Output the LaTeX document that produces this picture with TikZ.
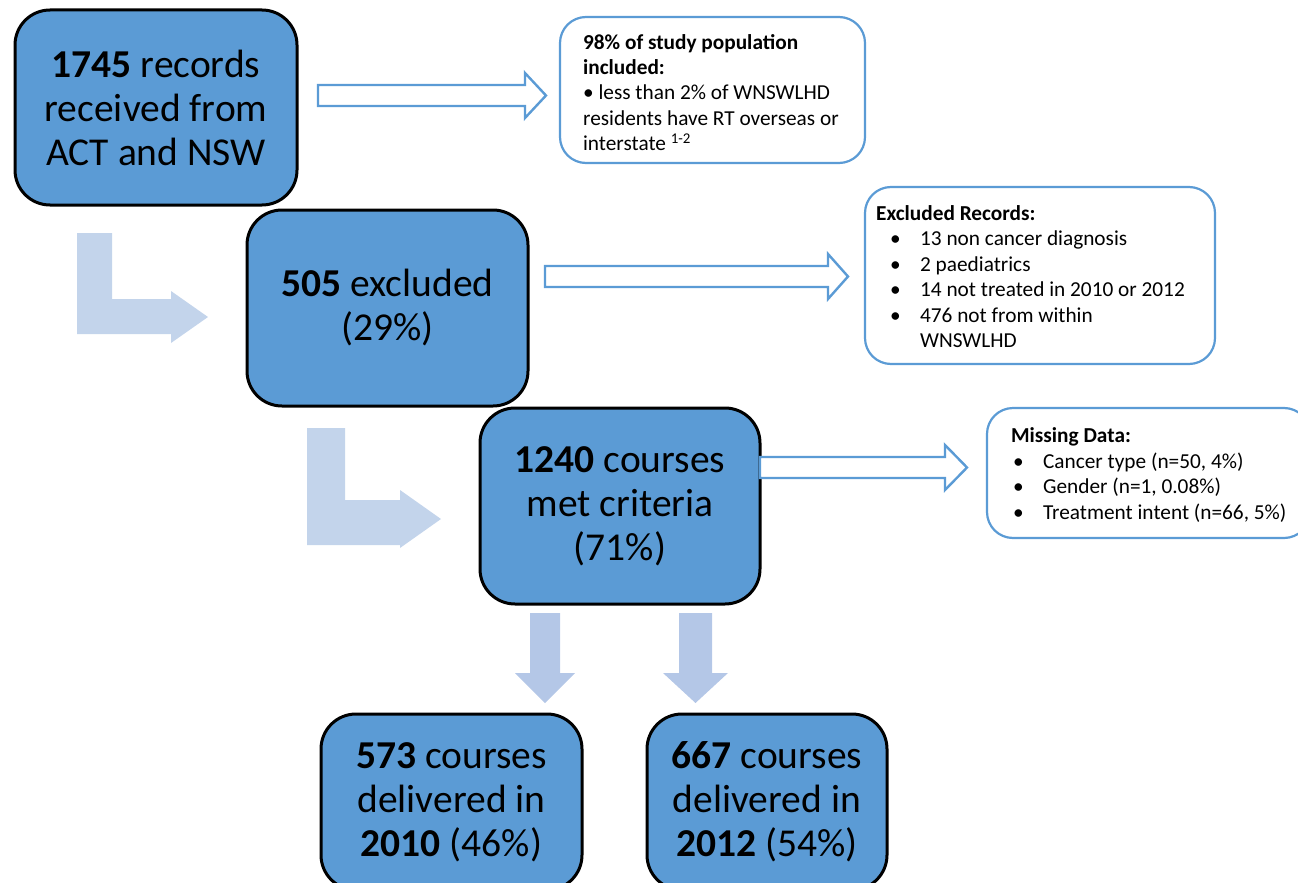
\documentclass[tikz,border=0pt]{standalone}
\usepackage{fontspec}
\setmainfont{Carlito}
\definecolor{boxblue}{HTML}{5B9BD5}
\definecolor{lightL}{HTML}{C3D4EB}
\definecolor{lightD}{HTML}{B4C7E7}
\tikzset{
  mainbox/.style={draw=black, line width=3pt, fill=boxblue, rounded corners=35pt, align=center, inner sep=0pt,
    font=\fontsize{39.5}{44}\selectfont},
  infobox/.style={draw=boxblue, line width=2.2pt, fill=white, rounded corners=26pt, inner sep=0pt},
  infotext/.style={align=left, inner sep=0pt, font=\fontsize{21.3}{25.4}\selectfont},
  outarrow/.style={draw=boxblue, line width=2.4pt, fill=white, line join=miter},
  Larrow/.style={fill=lightL, draw=none},
  Darrow/.style={fill=lightD, draw=none}
}
\newcommand{\bl}[1]{\hspace*{#1}\makebox[30pt][l]{•}}
\begin{document}
\begin{tikzpicture}[x=1pt,y=-1pt]
\useasboundingbox (0,0) rectangle (1298,883);
% main boxes
\node[mainbox, minimum width=282, minimum height=195] (b1) at (156,107.5) {\textbf{1745} records\\received from\\ACT and NSW};
\node[mainbox, minimum width=281, minimum height=196] (b2) at (387.5,308) {\textbf{505} excluded\\(29\%)};
\node[mainbox, minimum width=280, minimum height=196] (b3) at (620,506) {\textbf{1240} courses\\met criteria\\(71\%)};
\node[mainbox, minimum width=261, minimum height=176] (b4) at (451.5,802) {\textbf{573} courses\\delivered in\\\textbf{2010} (46\%)};
\node[mainbox, minimum width=240, minimum height=176] (b5) at (767,802) {\textbf{667} courses\\delivered in\\\textbf{2012} (54\%)};
% info boxes
\node[infobox, minimum width=305, minimum height=146] (r1) at (712.5,90) {};
\node[infotext, anchor=west] (r1t) at ([xshift=24pt,yshift=-2.5pt]r1.west) {\textbf{98\% of study population}\\\textbf{included:}\\• less than 2\% of WNSWLHD\\residents have RT overseas or\\interstate \textsuperscript{1-2}};
\node[infobox, minimum width=350, minimum height=177] (r2) at (1040,275.5) {};
\node[infotext, anchor=west] (r2t) at ([xshift=12pt,yshift=-1pt]r2.west) {\textbf{Excluded Records:}\\\bl{14pt}13 non cancer diagnosis\\\bl{14pt}2 paediatrics\\\bl{14pt}14 not treated in 2010 or 2012\\\bl{14pt}476 not from within\\\hspace*{44pt}WNSWLHD};
\node[infobox, minimum width=323, minimum height=130] (r3) at (1148.5,473) {};
\node[infotext, anchor=west] (r3t) at ([xshift=25pt,yshift=-2pt]r3.west) {\textbf{Missing Data:}\\\bl{2pt}Cancer type (n=50, 4\%)\\\bl{2pt}Gender (n=1, 0.08\%)\\\bl{2pt}Treatment intent (n=66, 5\%)};
% outline arrows
\draw[outarrow] (318,85) -- (525,85) -- (525,73) -- (546,95.5) -- (525,118) -- (525,106) -- (318,106) -- cycle;
\draw[outarrow] (545,266) -- (828,266) -- (828,254) -- (848,276.5) -- (828,299) -- (828,287) -- (545,287) -- cycle;
\draw[outarrow] (760,457) -- (945,457) -- (945,445) -- (967,467.5) -- (945,490) -- (945,478) -- (760,478) -- cycle;
% L-shaped arrows
\fill[Larrow] (77,233) -- (112,233) -- (112,299) -- (171,299) -- (171,291) -- (208,317) -- (171,343) -- (171,334) -- (77,334) -- cycle;
\fill[Larrow] (307,428) -- (345,428) -- (345,500) -- (400,500) -- (400,490) -- (441,519) -- (400,548) -- (400,545) -- (307,545) -- cycle;
% down arrows
\fill[Darrow] (530,613) -- (560,613) -- (560,673) -- (575,673) -- (545,703) -- (515,673) -- (530,673) -- cycle;
\fill[Darrow] (679,613) -- (712,613) -- (712,673) -- (728,673) -- (695.5,703) -- (663,673) -- (679,673) -- cycle;
\end{tikzpicture}
\end{document}
